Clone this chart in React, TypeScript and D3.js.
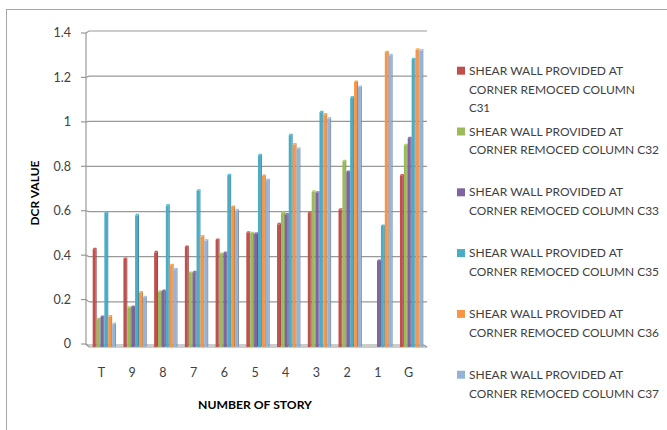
import React from "react";
import * as d3 from "d3";

const categories = ["T", "9", "8", "7", "6", "5", "4", "3", "2", "1", "G"];
const seriesNames = ["C31", "C32", "C33", "C35", "C36", "C37"];
const c31 = [0.44, 0.397, 0.426, 0.45, 0.481, 0.513, 0.55, 0.6, 0.615, 0, 0.767];
const c32 = [0.13, 0.181, 0.251, 0.335, 0.419, 0.511, 0.6, 0.695, 0.83, 0, 0.9];
const c33 = [0.14, 0.184, 0.255, 0.338, 0.423, 0.508, 0.594, 0.69, 0.782, 0.388, 0.932];
const c35 = [0.603, 0.59, 0.633, 0.699, 0.768, 0.856, 0.945, 1.047, 1.112, 0.543, 1.282];
const c36 = [0.142, 0.248, 0.369, 0.496, 0.627, 0.764, 0.904, 1.037, 1.181, 1.313, 1.324];
const c37 = [0.108, 0.227, 0.351, 0.478, 0.612, 0.746, 0.885, 1.019, 1.158, 1.299, 1.32];
const seriesValues = [c31, c32, c33, c35, c36, c37];
const colors = ["#C0504D", "#9BBB59", "#8064A2", "#4BACC6", "#F79646", "#95B3D7"];
const yTicks = [0, 0.2, 0.4, 0.6, 0.8, 1, 1.2, 1.4];
const legendLine1 = "SHEAR WALL PROVIDED AT";
const legendLine2 = "CORNER REMOCED COLUMN";

const FONT = "Lato, 'Open Sans', sans-serif";

export default function App() {
  const width = 667;
  const height = 430;
  const x = d3
    .scaleBand<string>()
    .domain(categories)
    .range([89, 427])
    .paddingInner(0.24)
    .paddingOuter(0.12);
  const xs = d3
    .scaleBand<string>()
    .domain(seriesNames)
    .range([0, x.bandwidth()])
    .padding(0);
  const yBack = d3.scaleLinear().domain([0, 1.4]).range([347, 31]);
  const yFront = d3.scaleLinear().domain([0, 1.4]).range([344, 33]);
  const axisX = 86;
  const bw = xs.bandwidth();

  const bars: React.ReactNode[] = [];
  categories.forEach((cat, ci) => {
    seriesValues.forEach((vals, si) => {
      const v = vals[ci];
      if (!v) return;
      const x0 = (x(cat) as number) + (xs(seriesNames[si]) as number);
      const yt = yBack(v);
      const yb = yBack(0);
      const fw = bw * 0.75;
      const c = d3.color(colors[si])!;
      const dark = c.darker(0.6).formatHex();
      const light = c.brighter(0.3).formatHex();
      bars.push(
        <g key={`${ci}-${si}`}>
          <rect x={x0} y={yt + 1.5} width={fw} height={yb - yt - 1.5} fill={colors[si]} />
          <path
            d={`M${x0 + fw},${yt + 1.5} L${x0 + bw},${yt} L${x0 + bw},${yb - 1} L${x0 + fw},${yb} Z`}
            fill={dark}
          />
          <path
            d={`M${x0},${yt + 1.5} L${x0 + fw},${yt + 1.5} L${x0 + bw},${yt} L${x0 + bw - fw},${yt} Z`}
            fill={light}
          />
        </g>
      );
    });
  });

  const legendY0 = 70.7;
  const legendStep = 60.8;
  const lineH = 18.8;

  return (
    <svg width={width} height={height} style={{ position: "absolute", left: 0, top: 0 }}>
      <rect x={0} y={0} width={width} height={height} fill="#fff" />
      <line x1={6.5} y1={9} x2={6.5} y2={height} stroke="#A6A6A6" strokeWidth={1} />
      <line x1={6} y1={9.5} x2={width} y2={9.5} stroke="#A6A6A6" strokeWidth={1} />

      {yTicks.map((t) => (
        <g key={t}>
          <line x1={89} x2={427} y1={yBack(t)} y2={yBack(t)} stroke="#999" strokeWidth={1.2} />
          <line x1={axisX} x2={89} y1={yFront(t)} y2={yBack(t)} stroke="#999" strokeWidth={1.2} />
          <line x1={axisX - 5} x2={axisX} y1={yFront(t)} y2={yFront(t)} stroke="#999" strokeWidth={1.2} />
          <text
            x={71}
            y={yFront(t)}
            dy="0.35em"
            textAnchor="end"
            fontFamily={FONT}
            fontSize={12.5}
            fill="#404040"
          >
            {String(t)}
          </text>
        </g>
      ))}
      <line x1={axisX} x2={axisX} y1={yFront(1.4)} y2={yFront(0) + 1} stroke="#999" strokeWidth={1.2} />
      <line x1={axisX} x2={424} y1={yFront(0) + 1} y2={yFront(0) + 1} stroke="#999" strokeWidth={1.2} />
      <line x1={424} x2={427} y1={yFront(0) + 1} y2={yBack(0)} stroke="#999" strokeWidth={1.2} />

      {bars}

      {categories.map((c) => (
        <text
          key={c}
          x={(x(c) as number) + x.bandwidth() / 2 - 3}
          y={373}
          dy="0.35em"
          textAnchor="middle"
          fontFamily={FONT}
          fontSize={12.5}
          fill="#404040"
        >
          {c}
        </text>
      ))}

      <text
        x={255}
        y={405}
        dy="0.35em"
        textAnchor="middle"
        fontFamily={FONT}
        fontSize={12}
        fontWeight="bold"
        fill="#000"
        textLength={114}
        lengthAdjust="spacingAndGlyphs"
      >
        NUMBER OF STORY
      </text>
      <text
        transform="translate(35,193) rotate(-90)"
        dy="0.35em"
        textAnchor="middle"
        fontFamily={FONT}
        fontSize={12}
        fontWeight="bold"
        fill="#000"
      >
        DCR VALUE
      </text>

      {seriesNames.map((s, i) => {
        const y0 = legendY0 + i * legendStep;
        const lines: [string, number][] =
          i === 0
            ? [
                [legendLine1, 154],
                [legendLine2, 166],
                [s, 21],
              ]
            : [
                [legendLine1, 154],
                [`${legendLine2} ${s}`, 190],
              ];
        return (
          <g key={s}>
            <rect x={457} y={y0 - 4} width={8} height={8} fill={colors[i]} />
            {lines.map(([l, len], li) => (
              <text
                key={li}
                x={469}
                y={y0 + li * lineH}
                dy="0.35em"
                fontFamily={FONT}
                fontSize={11.6}
                fill="#404040"
                textLength={len}
                lengthAdjust="spacingAndGlyphs"
              >
                {l}
              </text>
            ))}
          </g>
        );
      })}
    </svg>
  );
}
